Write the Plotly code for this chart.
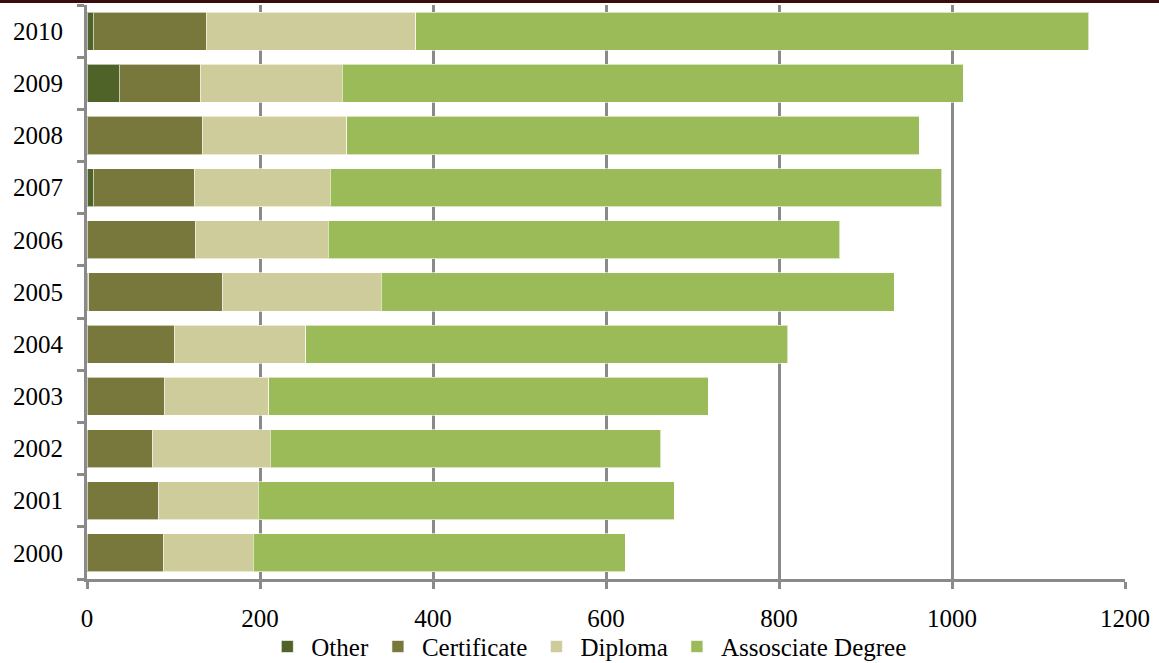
import plotly.graph_objects as go

years = ["2000", "2001", "2002", "2003", "2004", "2005", "2006", "2007", "2008", "2009", "2010"]
other = [0, 0, 0, 0, 0, 2, 0, 7, 0, 37, 7]
certificate = [88, 83, 76, 90, 101, 155, 126, 117, 133, 94, 131]
diploma = [104, 115, 136, 120, 152, 183, 153, 157, 167, 164, 242]
associate = [430, 481, 451, 508, 557, 593, 591, 707, 662, 718, 778]

series = [
    ("Other", other, "#4f6228"),
    ("Certificate", certificate, "#79783c"),
    ("Diploma", diploma, "#cecc9a"),
    ("Assosciate Degree", associate, "#9bbb59"),
]

fig = go.Figure()
for name, vals, color in series:
    fig.add_trace(go.Bar(
        y=years, x=vals, name=name, orientation="h",
        marker=dict(color=color, line=dict(color="rgba(255,255,255,0.6)", width=1)),
    ))

grey = "#8a8a8a"
font = "Liberation Serif"
fs = 25
fig.update_layout(
    width=1159, height=663,
    barmode="stack", bargap=0.27,
    paper_bgcolor="white", plot_bgcolor="white",
    margin=dict(l=87, r=34, t=5, b=84, autoexpand=False),
    font=dict(family=font, size=fs, color="black"),
    showlegend=True,
    legend=dict(orientation="h", x=0.482, xanchor="center", y=-0.118, yanchor="middle",
                font=dict(family=font, size=fs), traceorder="normal",
                itemwidth=38, bgcolor="rgba(0,0,0,0)"),
    xaxis=dict(range=[0, 1200], tickvals=[0, 200, 400, 600, 800, 1000, 1200],
               showgrid=True, gridcolor=grey, gridwidth=3,
               showline=True, linecolor=grey, linewidth=3,
               ticks="outside", ticklen=7, tickwidth=3, tickcolor=grey,
               ticklabelstandoff=8, zeroline=False,
               tickfont=dict(family=font, size=fs)),
    yaxis=dict(type="category", categoryorder="array", categoryarray=years,
               showline=True, linecolor=grey, linewidth=3,
               ticks="outside", ticklen=7, tickwidth=3, tickcolor=grey,
               tickson="boundaries", showgrid=False,
               ticklabelstandoff=16,
               tickfont=dict(family=font, size=fs)),
    shapes=[dict(type="line", xref="paper", yref="paper",
                 x0=-87/1038, x1=(1159-87)/1038, y0=(574+3.5)/574, y1=(574+3.5)/574,
                 line=dict(color="#3a0b0b", width=3))],
)

fig.write_html("out.html", config={"displayModeBar": False},
               post_script="document.body.style.margin='0';document.body.style.overflow='hidden';")
